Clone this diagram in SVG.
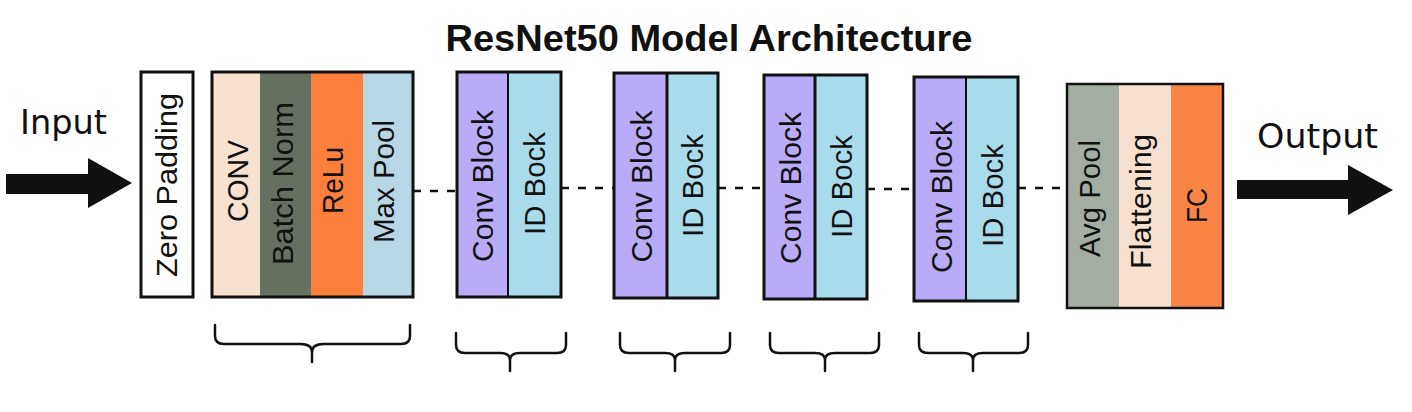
<svg xmlns="http://www.w3.org/2000/svg" width="1412" height="412" viewBox="0 0 1412 412">
  <style>
    .lbl { font-family: "Liberation Sans", Arial, sans-serif; font-size: 30px; fill: #111; text-anchor: middle; }
    .io { font-family: "DejaVu Sans", sans-serif; font-size: 34px; fill: #111; }
    .title { font-family: "Liberation Sans", Arial, sans-serif; font-size: 36px; font-weight: bold; fill: #111; text-anchor: middle; }
    .frame { fill: none; stroke: #111; stroke-width: 3; }
    .div { stroke: #111; stroke-width: 2; }
    .dash { stroke: #111; stroke-width: 2.5; stroke-dasharray: 8 9; fill: none; }
    .brace { fill: none; stroke: #111; stroke-width: 2.5; stroke-linecap: round; stroke-linejoin: round; }
    .arrow { fill: #111; }
    .conv { fill: #b9abf7; }
    .id { fill: #a9dcea; }
  </style>

  <rect width="1412" height="412" fill="#ffffff"/>

  <text class="title" x="709" y="51" textLength="527" lengthAdjust="spacingAndGlyphs">ResNet50 Model Architecture</text>

  <g id="connectors">
    <polygon class="arrow" points="6,174 88,174 88,158 132,183 88,208 88,194 6,194"/>
    <text class="io" x="20" y="134" textLength="87" lengthAdjust="spacingAndGlyphs">Input</text>
    <line class="dash" x1="413" y1="191" x2="457" y2="191"/>
    <line class="dash" x1="561" y1="188" x2="614" y2="188"/>
    <line class="dash" x1="718" y1="188" x2="764" y2="188"/>
    <line class="dash" x1="867" y1="189" x2="914" y2="189"/>
    <line class="dash" x1="1018" y1="188" x2="1067" y2="188"/>
    <polygon class="arrow" points="1237,180 1348,180 1348,165 1393,190 1348,215 1348,199 1237,199"/>
    <text class="io" x="1257" y="148" textLength="121" lengthAdjust="spacingAndGlyphs">Output</text>
  </g>

  <g id="zero-padding">
    <rect x="141" y="72" width="52" height="225" fill="#ffffff"/>
    <rect class="frame" x="141" y="72" width="52" height="225"/>
    <text class="lbl" x="177" y="185" transform="rotate(-90 177 185)" textLength="184" lengthAdjust="spacingAndGlyphs">Zero Padding</text>
  </g>

  <g id="stem">
    <rect x="212" y="72" width="48" height="225" fill="#f7e2d2"/>
    <rect x="260" y="72" width="51" height="225" fill="#657061"/>
    <rect x="311" y="72" width="52" height="225" fill="#fd7f3c"/>
    <rect x="363" y="72" width="50" height="225" fill="#b8d7e4"/>
    <rect class="frame" x="212" y="72" width="201" height="225"/>
    <text class="lbl" x="248" y="181" transform="rotate(-90 248 181)" textLength="82" lengthAdjust="spacingAndGlyphs">CONV</text>
    <text class="lbl" x="293" y="183.5" transform="rotate(-90 293 183.5)" textLength="163" lengthAdjust="spacingAndGlyphs">Batch Norm</text>
    <text class="lbl" x="343" y="180.5" transform="rotate(-90 343 180.5)" textLength="67" lengthAdjust="spacingAndGlyphs">ReLu</text>
    <text class="lbl" x="394" y="181.5" transform="rotate(-90 394 181.5)" textLength="123" lengthAdjust="spacingAndGlyphs">Max Pool</text>
  </g>

  <g id="stage1">
    <rect class="conv" x="457" y="72" width="51" height="225"/>
    <rect class="id" x="508" y="72" width="53" height="225"/>
    <line class="div" x1="508" y1="72" x2="508" y2="297"/>
    <rect class="frame" x="457" y="72" width="104" height="225"/>
    <text class="lbl" x="493" y="186" transform="rotate(-90 493 186)" textLength="152" lengthAdjust="spacingAndGlyphs">Conv Block</text>
    <text class="lbl" x="545" y="183.5" transform="rotate(-90 545 183.5)" textLength="103" lengthAdjust="spacingAndGlyphs">ID Bock</text>
  </g>

  <g id="stage2">
    <rect class="conv" x="614" y="73" width="53" height="225"/>
    <rect class="id" x="667" y="73" width="51" height="225"/>
    <line class="div" x1="667" y1="73" x2="667" y2="298" style="stroke-width:3"/>
    <rect class="frame" x="614" y="73" width="104" height="225"/>
    <text class="lbl" x="652" y="186.5" transform="rotate(-90 652 186.5)" textLength="152" lengthAdjust="spacingAndGlyphs">Conv Block</text>
    <text class="lbl" x="703" y="185.5" transform="rotate(-90 703 185.5)" textLength="103" lengthAdjust="spacingAndGlyphs">ID Bock</text>
  </g>

  <g id="stage3">
    <rect class="conv" x="764" y="75" width="51" height="224"/>
    <rect class="id" x="815" y="75" width="52" height="224"/>
    <line class="div" x1="815" y1="75" x2="815" y2="299" style="stroke-width:3"/>
    <rect class="frame" x="764" y="75" width="103" height="224"/>
    <text class="lbl" x="801" y="188" transform="rotate(-90 801 188)" textLength="152" lengthAdjust="spacingAndGlyphs">Conv Block</text>
    <text class="lbl" x="852" y="186.5" transform="rotate(-90 852 186.5)" textLength="103" lengthAdjust="spacingAndGlyphs">ID Bock</text>
  </g>

  <g id="stage4">
    <rect class="conv" x="914" y="77" width="52" height="224"/>
    <rect class="id" x="966" y="77" width="52" height="224"/>
    <line class="div" x1="966" y1="77" x2="966" y2="301"/>
    <rect class="frame" x="914" y="77" width="104" height="224"/>
    <text class="lbl" x="952" y="197" transform="rotate(-90 952 197)" textLength="152" lengthAdjust="spacingAndGlyphs">Conv Block</text>
    <text class="lbl" x="1003" y="195.5" transform="rotate(-90 1003 195.5)" textLength="103" lengthAdjust="spacingAndGlyphs">ID Bock</text>
  </g>

  <g id="head">
    <rect x="1067" y="84" width="52" height="224" fill="#a3ada2"/>
    <rect x="1119" y="84" width="52" height="224" fill="#f6e0cf"/>
    <rect x="1171" y="84" width="52" height="224" fill="#f98444"/>
    <rect class="frame" x="1067" y="84" width="156" height="224" style="stroke-width:2.5"/>
    <text class="lbl" x="1100" y="198.5" transform="rotate(-90 1100 198.5)" textLength="117" lengthAdjust="spacingAndGlyphs">Avg Pool</text>
    <text class="lbl" x="1151" y="201.5" transform="rotate(-90 1151 201.5)" textLength="135" lengthAdjust="spacingAndGlyphs">Flattening</text>
    <text class="lbl" x="1207" y="205.5" transform="rotate(-90 1207 205.5)" textLength="35" lengthAdjust="spacingAndGlyphs">FC</text>
  </g>

  <g id="braces">
    <path class="brace" d="M215,325 V336 Q215,344 224,344 H300 Q312,344 312,352 Q312,344 324,344 H401 Q410,344 410,336 V325 M312,350 V362"/>
    <path class="brace" d="M456,333 V345 Q456,353 465,353 H500 Q510,353 510,360 Q510,353 520,353 H557 Q566,353 566,345 V333 M510,358 V371"/>
    <path class="brace" d="M620,333 V345 Q620,353 629,353 H665 Q675,353 675,360 Q675,353 685,353 H721 Q730,353 730,345 V333 M675,358 V371"/>
    <path class="brace" d="M770,333 V345 Q770,353 779,353 H815 Q825,353 825,360 Q825,353 835,353 H870 Q879,353 879,345 V333 M825,358 V371"/>
    <path class="brace" d="M919,333 V345 Q919,353 928,353 H963 Q973,353 973,360 Q973,353 983,353 H1019 Q1028,353 1028,345 V333 M973,358 V371"/>
  </g>
</svg>
